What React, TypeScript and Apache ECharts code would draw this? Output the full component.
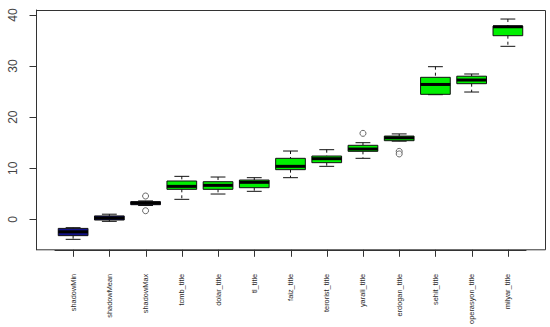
import React, { useEffect, useRef } from "react";
import * as echarts from "echarts";

const categories = [
  "shadowMin", "shadowMean", "shadowMax", "tcmb_title", "dolar_title", "tl_title",
  "faiz_title", "terorist_title", "yarali_title", "erdogan_title", "sehit_title",
  "operasyon_title", "milyar_title",
];
// five-number summaries: lower whisker, Q1, median, Q3, upper whisker
const lowerWhisker = [-3.92, -0.4, 2.7, 3.91, 4.95, 5.48, 8.15, 10.37, 11.94, 15.3, 24.4, 24.92, 33.87];
const q1Values = [-3.2, -0.14, 2.86, 5.87, 5.87, 6.19, 9.72, 11.09, 13.31, 15.39, 24.47, 26.55, 35.95];
const medianValues = [-2.45, 0.25, 3.19, 6.45, 6.65, 7.24, 10.37, 11.87, 13.76, 15.95, 26.4, 27.27, 37.7];
const q3Values = [-1.78, 0.66, 3.45, 7.5, 7.36, 7.69, 11.94, 12.39, 14.49, 16.3, 27.8, 28.02, 37.84];
const upperWhisker = [-1.64, 1.0, 3.6, 8.41, 8.28, 8.15, 13.37, 13.63, 15.0, 16.72, 29.88, 28.45, 39.21];
const decisions = ["shadow", "shadow", "shadow", "confirmed", "confirmed", "confirmed", "confirmed",
  "confirmed", "confirmed", "confirmed", "confirmed", "confirmed", "confirmed"];
const outlierCategory = [2, 2, 8, 9, 9];
const outlierValues = [4.56, 1.68, 16.83, 13.3, 12.8];
const yTicks = [0, 10, 20, 30, 40];
const yMin = -5.97;
const yMax = 40.98;

const colorFor: Record<string, string> = { shadow: "#12128a", confirmed: "#00f000" };

export default function App() {
  const ref = useRef<HTMLDivElement>(null);
  useEffect(() => {
    if (!ref.current) return;
    const chart = echarts.init(ref.current, null, { renderer: "svg" });
    const boxData = categories.map((_, i) => [
      i, lowerWhisker[i], q1Values[i], medianValues[i], q3Values[i], upperWhisker[i],
    ]);
    const outliers = outlierCategory.map((c, i) => [c, outlierValues[i]]);
    const xTickData = categories.map((_, i) => [i, yMin]);
    const yTickData = yTicks.map((v) => [0, v]);
    const tickColor = "#333";
    const frameLeft = 36.5;
    chart.setOption({
      animation: false,
      grid: { left: 55, right: 24, top: 10, bottom: 77.2 },
      xAxis: {
        type: "category",
        data: categories,
        boundaryGap: true,
        axisLine: { show: true, onZero: false, lineStyle: { color: "#333", width: 1 } },
        axisTick: { show: false },
        axisLabel: {
          rotate: 90, interval: 0, margin: 24, fontSize: 7.4,
          fontFamily: "Liberation Sans", color: "#2a2a2a",
        },
      },
      yAxis: {
        type: "value",
        min: yMin,
        max: yMax,
        offset: 19,
        splitLine: { show: false },
        axisLine: { show: true, lineStyle: { color: "#333", width: 1 } },
        axisTick: { show: false },
        axisLabel: {
          rotate: 90, margin: 17, fontSize: 12, fontFamily: "Liberation Sans",
          color: "#444", customValues: yTicks,
        },
      },
      graphic: [
        {
          type: "rect",
          shape: { x: frameLeft, y: 10.5, width: 509, height: 239.3 },
          style: { fill: "none", stroke: "#333", lineWidth: 1 },
          silent: true,
        },
      ],
      series: [
        {
          type: "custom",
          data: boxData,
          encode: { x: 0, y: [1, 2, 3, 4, 5] },
          renderItem: (params: any, api: any) => {
            const i = api.value(0);
            const lo = api.coord([i, api.value(1)]);
            const q1 = api.coord([i, api.value(2)]);
            const med = api.coord([i, api.value(3)]);
            const q3 = api.coord([i, api.value(4)]);
            const hi = api.coord([i, api.value(5)]);
            const band = api.size([1, 0])[0];
            const bw = band * 0.82;
            const cw = bw * 0.5;
            const x = lo[0];
            const fill = colorFor[decisions[params.dataIndex]];
            const stroke = "#111";
            return {
              type: "group",
              children: [
                { type: "line", shape: { x1: x, y1: hi[1], x2: x, y2: q3[1] },
                  style: { stroke, lineWidth: 1, lineDash: [3, 3] } },
                { type: "line", shape: { x1: x, y1: q1[1], x2: x, y2: lo[1] },
                  style: { stroke, lineWidth: 1, lineDash: [3, 3] } },
                { type: "line", shape: { x1: x - cw / 2, y1: hi[1], x2: x + cw / 2, y2: hi[1] },
                  style: { stroke, lineWidth: 1 } },
                { type: "line", shape: { x1: x - cw / 2, y1: lo[1], x2: x + cw / 2, y2: lo[1] },
                  style: { stroke, lineWidth: 1 } },
                { type: "rect", shape: { x: x - bw / 2, y: q3[1], width: bw, height: q1[1] - q3[1] },
                  style: { fill, stroke, lineWidth: 1 } },
                { type: "line", shape: { x1: x - bw / 2, y1: med[1], x2: x + bw / 2, y2: med[1] },
                  style: { stroke: "#000", lineWidth: 3 } },
              ],
            };
          },
        },
        {
          type: "scatter",
          data: outliers,
          symbol: "circle",
          symbolSize: 6,
          itemStyle: { color: "#fff", borderColor: "#444", borderWidth: 1 },
          z: 5,
        },
        {
          type: "custom",
          data: xTickData,
          encode: { x: 0, y: 1 },
          silent: true,
          clip: false,
          renderItem: (_params: any, api: any) => {
            const p = api.coord([api.value(0), api.value(1)]);
            const x = Math.round(p[0]) + 0.5;
            return {
              type: "line",
              shape: { x1: x, y1: p[1], x2: x, y2: p[1] + 7 },
              style: { stroke: tickColor, lineWidth: 1 },
            };
          },
        },
        {
          type: "custom",
          data: yTickData,
          encode: { x: 0, y: 1 },
          silent: true,
          clip: false,
          renderItem: (_params: any, api: any) => {
            const p = api.coord([api.value(0), api.value(1)]);
            const y = Math.round(p[1]) + 0.5;
            return {
              type: "line",
              shape: { x1: frameLeft - 7, y1: y, x2: frameLeft, y2: y },
              style: { stroke: tickColor, lineWidth: 1 },
            };
          },
        },
      ],
    });
    return () => chart.dispose();
  }, []);
  return (
    <div
      ref={ref}
      style={{ position: "fixed", left: 0, top: 0, width: 550, height: 327, background: "#fff" }}
    />
  );
}
